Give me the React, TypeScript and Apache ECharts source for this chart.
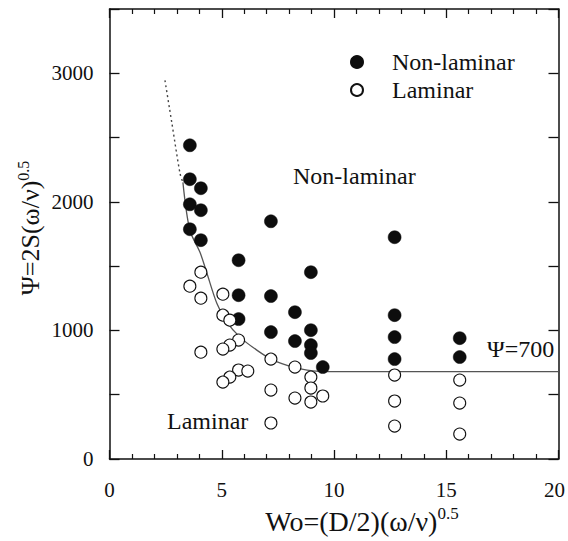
import React, { useEffect, useRef } from "react";
import * as echarts from "echarts";

// Non-laminar (filled) observations [Wo, Psi]
const nonLaminar: [number, number][] = [
  [3.58, 2440], [3.58, 2176], [4.07, 2106], [3.58, 1981], [4.07, 1935],
  [7.19, 1849], [3.58, 1787], [4.07, 1702], [5.75, 1546], [12.7, 1725],
  [8.97, 1453], [5.75, 1274], [7.19, 1267], [8.26, 1142], [5.75, 1088],
  [7.19, 987], [8.26, 917], [8.97, 1002], [8.97, 886], [8.97, 824],
  [9.5, 715], [12.7, 1119], [12.7, 948], [12.7, 777], [15.6, 940], [15.6, 793],
];

// Laminar (open) observations [Wo, Psi]
const laminar: [number, number][] = [
  [4.07, 1453], [3.58, 1344], [4.07, 1251], [5.05, 1282], [5.05, 1119],
  [5.36, 1080], [5.75, 925], [5.36, 886], [5.05, 855], [4.07, 831],
  [7.19, 777], [8.26, 715], [8.97, 637], [5.75, 692], [6.16, 684],
  [5.36, 637], [5.05, 598], [7.19, 536], [8.97, 552], [9.5, 490],
  [8.26, 474], [8.97, 443], [7.19, 280], [12.7, 653], [12.7, 451],
  [12.7, 256], [15.6, 614], [15.6, 435], [15.6, 194],
];

// Boundary curve: dotted extrapolation and solid part
const boundaryDotted: [number, number][] = [
  [2.47, 2945], [2.78, 2611], [3.14, 2222], [3.27, 2152],
];
const boundarySolid: [number, number][] = [
  [3.27, 2152], [3.58, 1779], [4.03, 1608], [4.34, 1445], [4.78, 1212],
  [5.23, 1064], [5.81, 948], [6.56, 847], [7.28, 769], [8.17, 715],
  [9.06, 686], [9.68, 680], [20, 680],
];

const xTicks = [0, 5, 10, 15, 20];
const yTickLabels = [0, 1000, 2000, 3000];

const FONT = "Liberation Serif";

export default function App() {
  const ref = useRef<HTMLDivElement>(null);
  useEffect(() => {
    if (!ref.current) return;
    const chart = echarts.init(ref.current, undefined, { renderer: "svg" });
    const axisLine = { show: true, onZero: false, lineStyle: { color: "#111", width: 1.5 } };
    const option: any = {
      animation: false,
      backgroundColor: "#fff",
      grid: { left: 109.5, right: 9, top: 9, bottom: 82, containLabel: false },
      legend: {
        orient: "vertical",
        left: 345,
        top: 45,
        itemWidth: 60,
        itemHeight: 12,
        itemGap: 4,
        data: ["Non-laminar", "Laminar"],
        textStyle: { fontFamily: FONT, fontSize: 24, color: "#111" },
      },
      xAxis: [
        {
          type: "value",
          min: 0,
          max: 20,
          interval: 5,
          position: "bottom",
          axisLine,
          axisTick: { show: true, inside: true, length: 9, lineStyle: { color: "#111", width: 1.3 } },
          minorTick: { show: true, splitNumber: 5, length: 5, lineStyle: { color: "#111", width: 1.2 } },
          splitLine: { show: false },
          axisLabel: {
            margin: 20,
            fontFamily: FONT,
            fontSize: 21,
            color: "#111",
            formatter: (v: number) =>
              v === 20 ? "{r|20}" : xTicks.includes(v) ? String(v) : "",
            rich: {
              r: { fontFamily: FONT, fontSize: 21, color: "#111", padding: [0, 8, 0, 0] },
            },
          },
        },
        {
          type: "value",
          min: 0,
          max: 20,
          interval: 5,
          position: "top",
          axisLine,
          axisTick: { show: true, inside: true, length: 9, lineStyle: { color: "#111", width: 1.3 } },
          minorTick: { show: true, splitNumber: 5, length: 5, lineStyle: { color: "#111", width: 1.2 } },
          splitLine: { show: false },
          axisLabel: { show: false },
        },
      ],
      yAxis: [
        {
          type: "value",
          min: 0,
          max: 3500,
          interval: 500,
          position: "left",
          axisLine,
          axisTick: { show: true, inside: true, length: 10, lineStyle: { color: "#111", width: 1.3 } },
          splitLine: { show: false },
          axisLabel: {
            margin: 16,
            fontFamily: FONT,
            fontSize: 21,
            color: "#111",
            formatter: (v: number) => (yTickLabels.includes(v) ? String(v) : ""),
          },
        },
        {
          type: "value",
          min: 0,
          max: 3500,
          interval: 500,
          position: "right",
          axisLine,
          axisTick: { show: true, inside: true, length: 10, lineStyle: { color: "#111", width: 1.3 } },
          splitLine: { show: false },
          axisLabel: { show: false },
        },
      ],
      series: [
        {
          name: "boundary-dotted",
          type: "line",
          data: boundaryDotted,
          showSymbol: false,
          silent: true,
          smooth: 0.3,
          lineStyle: { color: "#444", width: 1.4, type: [2, 3] },
          z: 1,
        },
        {
          name: "boundary",
          type: "line",
          data: boundarySolid,
          showSymbol: false,
          silent: true,
          smooth: 0.3,
          lineStyle: { color: "#555", width: 1.3 },
          z: 1,
        },
        {
          name: "Non-laminar",
          type: "scatter",
          data: nonLaminar,
          symbol: "circle",
          symbolSize: 13,
          itemStyle: { color: "#0d0d0d", borderColor: "#0d0d0d", borderWidth: 0.5, opacity: 1 },
          z: 3,
        },
        {
          name: "Laminar",
          type: "scatter",
          data: laminar,
          symbol: "circle",
          symbolSize: 12,
          itemStyle: { color: "#fff", borderColor: "#111", borderWidth: 1.1, opacity: 1 },
          z: 4,
        },
      ],
      graphic: [
        {
          type: "text",
          left: 293,
          top: 164,
          style: { text: "Non-laminar", fontFamily: FONT, fontSize: 24, fill: "#111" },
        },
        {
          type: "text",
          left: 167,
          top: 409,
          style: { text: "Laminar", fontFamily: FONT, fontSize: 24, fill: "#111" },
        },
        {
          type: "text",
          left: 487,
          top: 337,
          style: { text: "Ψ=700", fontFamily: FONT, fontSize: 24, fill: "#111" },
        },
        {
          type: "text",
          x: 362,
          y: 521,
          style: {
            text: "{m|Wo=(D/2)(ω/ν)}{s|0.5}",
            align: "center",
            verticalAlign: "middle",
            fill: "#111",
            rich: {
              m: { fontFamily: FONT, fontSize: 28, lineHeight: 32, fill: "#111" },
              s: { fontFamily: FONT, fontSize: 17, lineHeight: 17, verticalAlign: "top", fill: "#111" },
            },
          },
        },
        {
          type: "text",
          x: 30,
          y: 228,
          rotation: Math.PI / 2,
          style: {
            text: "{m|Ψ=2S(ω/ν)}{s|0.5}",
            align: "center",
            verticalAlign: "middle",
            fill: "#111",
            rich: {
              m: { fontFamily: FONT, fontSize: 26, lineHeight: 30, fill: "#111" },
              s: { fontFamily: FONT, fontSize: 16, lineHeight: 16, verticalAlign: "top", fill: "#111" },
            },
          },
        },
      ],
    };
    chart.setOption(option);
    return () => chart.dispose();
  }, []);
  return (
    <div
      ref={ref}
      style={{ position: "absolute", left: 0, top: 0, width: 568, height: 541 }}
    />
  );
}
